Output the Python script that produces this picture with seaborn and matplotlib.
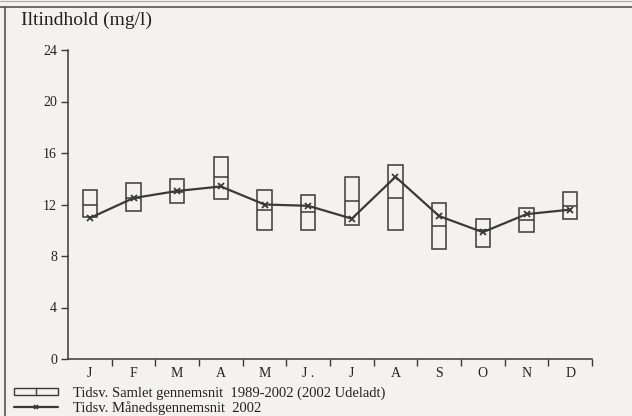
import numpy as np
import pandas as pd
import matplotlib
matplotlib.use("Agg")
import matplotlib.pyplot as plt
import seaborn as sns
from matplotlib.patches import Rectangle
from matplotlib.lines import Line2D
from matplotlib.legend_handler import HandlerBase

months = ["J", "F", "M", "A", "M", "J .", "J", "A", "S", "O", "N", "D"]
box_low = [11.0, 11.5, 12.1, 12.4, 10.0, 10.0, 10.4, 10.0, 8.55, 8.7, 9.85, 10.85]
box_high = [13.1, 13.7, 14.0, 15.7, 13.1, 12.7, 14.1, 15.05, 12.1, 10.9, 11.7, 12.95]
box_mid = [12.0, 12.5, 13.0, 14.1, 11.6, 11.4, 12.25, 12.5, 10.3, 10.0, 10.8, 11.9]
line_2002 = [10.95, 12.5, 13.05, 13.4, 12.0, 11.9, 10.9, 14.15, 11.1, 9.85, 11.25, 11.6]
yticks = [0, 4, 8, 12, 16, 20, 24]

bg = "#f3f2ee"
ink = "#3a3a3a"
sns.set_theme(style="white")
plt.rcParams["font.family"] = ["Liberation Serif", "DejaVu Serif"]

fig = plt.figure(figsize=(6.32, 4.16), dpi=100, facecolor=bg)
ax = fig.add_axes([68 / 632, 57 / 416, 524 / 632, 309 / 416])
ax.set_facecolor(bg)

x = np.arange(len(months))
df = pd.DataFrame({"x": x, "v": line_2002})
w = 0.33
ax.bar(x, np.array(box_high) - np.array(box_low), bottom=box_low, width=w,
       facecolor="none", edgecolor=ink, linewidth=1.1, zorder=2)
ax.hlines(box_mid, x - w / 2, x + w / 2, color=ink, linewidth=1.1, zorder=2)
sns.lineplot(data=df, x="x", y="v", ax=ax, color=ink, linewidth=1.6,
             marker="x", markersize=4, markeredgewidth=1.3, markeredgecolor=ink, zorder=3)

ax.set_xlim(-0.5, 11.5)
ax.set_ylim(0, 24)
ax.set_yticks(yticks)
ax.set_yticklabels([str(t) for t in yticks], fontsize=10, color="#222")
ax.set_xticks(np.arange(0.5, 12, 1))
ax.set_xticklabels([])
ax.set_xticks(x, minor=True)
ax.set_xticklabels(months, minor=True, fontsize=10, color="#222")
ax.tick_params(axis="x", which="major", direction="out", length=5, width=1, color=ink, bottom=True)
ax.tick_params(axis="x", which="minor", length=0, pad=6)
ax.tick_params(axis="y", direction="out", length=5, width=1, color=ink, left=True, pad=3)
for s in ["top", "right"]:
    ax.spines[s].set_visible(False)
for s in ["left", "bottom"]:
    ax.spines[s].set_color(ink)
    ax.spines[s].set_linewidth(1.1)
ax.set_xlabel("")
ax.set_ylabel("")
ax.grid(False)

fig.text(21 / 632, 1 - 20 / 416, "Iltindhold (mg/l)", fontsize=14, va="center", ha="left", color="#222")


class BoxHandler(HandlerBase):
    def create_artists(self, legend, orig_handle, xdescent, ydescent, width, height, fontsize, trans):
        r = Rectangle((-xdescent, -ydescent + height * 0.1), width, height * 0.7,
                      facecolor="none", edgecolor=ink, linewidth=1.0, transform=trans)
        l = Line2D([-xdescent + width / 2] * 2, [-ydescent + height * 0.1, -ydescent + height * 0.8],
                   color=ink, linewidth=1.0, transform=trans)
        return [r, l]


box_handle = Rectangle((0, 0), 1, 1)
line_handle = Line2D([], [], color=ink, linewidth=1.6, marker="x", markersize=3, markeredgewidth=1.2)
leg = fig.legend([box_handle, line_handle],
                 ["Tidsv. Samlet gennemsnit  1989-2002 (2002 Udeladt)",
                  "Tidsv. Månedsgennemsnit  2002"],
                 handler_map={Rectangle: BoxHandler()},
                 loc="lower left", bbox_to_anchor=(12 / 632, -0.004), frameon=False,
                 fontsize=10.5, handlelength=3.0, handletextpad=1.0, labelspacing=0.15,
                 borderaxespad=0.1, borderpad=0.05)
for t in leg.get_texts():
    t.set_color("#222")

fig.add_artist(Line2D([0, 1], [1 - 7 / 416] * 2, transform=fig.transFigure, color="#555", linewidth=1.2))
fig.add_artist(Line2D([5 / 632] * 2, [0, 1 - 7 / 416], transform=fig.transFigure, color="#555", linewidth=1.2))
fig.add_artist(Line2D([0, 1], [1 - 1 / 416] * 2, transform=fig.transFigure, color="#aaa", linewidth=0.8))

fig.savefig("out.png", dpi=100, facecolor=bg)
